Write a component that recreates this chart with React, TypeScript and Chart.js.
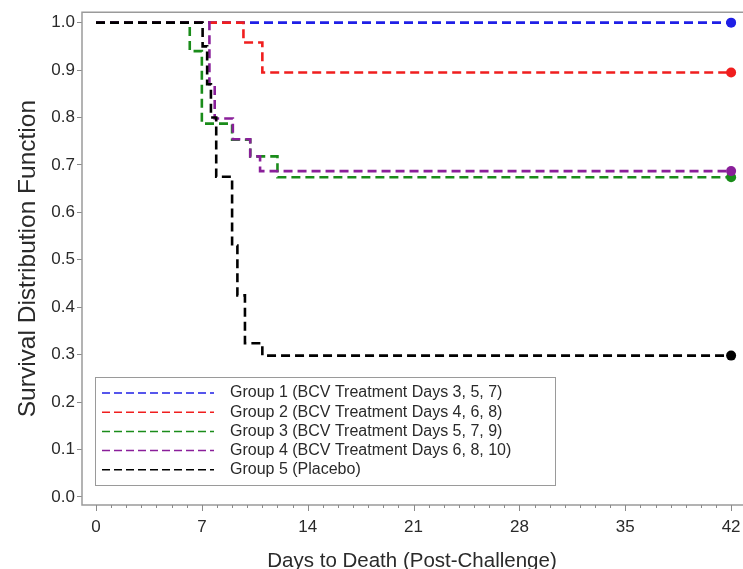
import React, { useEffect, useRef } from 'react';
import { Chart, registerables } from 'chart.js';

Chart.register(...registerables);

// ---- data ----
const xTickValues = [0, 7, 14, 21, 28, 35, 42];
const yTickValues = [0, 0.1, 0.2, 0.3, 0.4, 0.5, 0.6, 0.7, 0.8, 0.9, 1.0];

const groupNames = [
  'Group 1 (BCV Treatment Days 3, 5, 7)',
  'Group 2 (BCV Treatment Days 4, 6, 8)',
  'Group 3 (BCV Treatment Days 5, 7, 9)',
  'Group 4 (BCV Treatment Days 6, 8, 10)',
  'Group 5 (Placebo)',
];
const groupColors = ['#1f1fe6', '#f01e1e', '#1a8c1a', '#8a1f9a', '#000000'];

const g1Days = [0, 42];
const g1Surv = [1, 1];
const g2Days = [0, 9.75, 11.0, 42];
const g2Surv = [1, 0.958, 0.895, 0.895];
const g3Days = [0, 6.2, 7.0, 9.0, 10.2, 12.0, 42];
const g3Surv = [1, 0.94, 0.787, 0.753, 0.718, 0.674, 0.674];
const g4Days = [0, 7.5, 7.85, 9.05, 10.2, 10.85, 42];
const g4Surv = [1, 0.87, 0.798, 0.754, 0.718, 0.687, 0.687];
const g5Days = [0, 7.05, 7.35, 7.6, 7.95, 9.0, 9.35, 9.85, 11.0, 42];
const g5Surv = [1, 0.95, 0.87, 0.8, 0.675, 0.53, 0.425, 0.324, 0.298, 0.298];

const allDays = [g1Days, g2Days, g3Days, g4Days, g5Days];
const allSurv = [g1Surv, g2Surv, g3Surv, g4Surv, g5Surv];
const drawOrder = [4, 3, 2, 1, 0];

const FONT = '"Liberation Sans", Arial, sans-serif';
const PLOT_RIGHT = 742;

const framePlugin = {
  id: 'framePlugin',
  afterLayout(chart: any) {
    const xs = chart.scales.x;
    const area = chart.chartArea;
    xs.right = PLOT_RIGHT;
    xs.width = PLOT_RIGHT - xs.left;
    area.right = PLOT_RIGHT;
    area.width = PLOT_RIGHT - area.left;
    xs.configure();
  },
  afterDatasetsDraw(chart: any) {
    const { ctx, chartArea } = chart;
    const { left, top, right, bottom } = chartArea;
    ctx.save();
    ctx.strokeStyle = '#9a9a9a';
    ctx.lineWidth = 1.5;
    ctx.beginPath();
    ctx.moveTo(right + 10, top);
    ctx.lineTo(left, top);
    ctx.lineTo(left, bottom);
    ctx.lineTo(right + 10, bottom);
    ctx.stroke();
    // minor ticks every day, major ticks at the labelled values
    const xs = chart.scales.x;
    ctx.lineWidth = 1;
    ctx.strokeStyle = '#8a8a8a';
    for (let d = 0; d <= 42; d++) {
      const px = Math.round(xs.getPixelForValue(d)) + 0.5;
      const len = xTickValues.includes(d) ? 6 : 3;
      ctx.beginPath();
      ctx.moveTo(px, bottom);
      ctx.lineTo(px, bottom + len);
      ctx.stroke();
    }
    ctx.restore();
  },
  afterDraw(chart: any) {
    const { ctx } = chart;
    const bx = 95, by = 377, bw = 460, bh = 108;
    ctx.save();
    ctx.fillStyle = '#ffffff';
    ctx.fillRect(bx, by, bw, bh);
    ctx.strokeStyle = '#9a9a9a';
    ctx.lineWidth = 1;
    ctx.strokeRect(bx + 0.5, by + 0.5, bw, bh);
    ctx.font = `16px ${FONT}`;
    ctx.textBaseline = 'middle';
    for (let i = 0; i < groupNames.length; i++) {
      const y = by + 16 + i * 19.2;
      ctx.strokeStyle = groupColors[i];
      ctx.lineWidth = 1.5;
      ctx.setLineDash([8, 4]);
      ctx.beginPath();
      ctx.moveTo(102, y);
      ctx.lineTo(214, y);
      ctx.stroke();
      ctx.setLineDash([]);
      ctx.fillStyle = '#2a2a2a';
      ctx.fillText(groupNames[i], 230, y);
    }
    ctx.restore();
  },
};

export default function App() {
  const ref = useRef<HTMLCanvasElement | null>(null);
  useEffect(() => {
    const canvas = ref.current;
    if (!canvas) return;
    const datasets = allDays.map((days, gi) => ({
      label: groupNames[gi],
      data: days.map((d, i) => ({ x: d, y: allSurv[gi][i] })),
      borderColor: groupColors[gi],
      backgroundColor: groupColors[gi],
      borderWidth: 2.6,
      borderDash: [9, 5],
      stepped: 'before' as const,
      fill: false,
      order: drawOrder[gi],
      pointRadius: (c: any) => (c.dataIndex === days.length - 1 ? 5 : 0),
      pointBackgroundColor: groupColors[gi],
      pointBorderWidth: 0,
      pointHoverRadius: 0,
    }));
    const chart = new Chart(canvas, {
      type: 'line',
      data: { datasets },
      plugins: [framePlugin],
      options: {
        animation: false,
        responsive: false,
        maintainAspectRatio: false,
        events: [],
        layout: { padding: { top: 12, right: 1, left: 0, bottom: 0 } },
        plugins: { legend: { display: false }, tooltip: { enabled: false } },
        scales: {
          x: {
            type: 'linear',
            min: -0.926,
            max: 42.72,
            afterBuildTicks: (s: any) => {
              s.ticks = xTickValues.map((v) => ({ value: v }));
            },
            afterFit: (s: any) => {
              s.height = 64;
            },
            border: { display: false },
            grid: {
              drawOnChartArea: false,
              drawTicks: true,
              tickLength: 12,
              color: 'rgba(0,0,0,0)',
              tickColor: 'rgba(0,0,0,0)',
            },
            ticks: {
              color: '#2a2a2a',
              font: { family: FONT, size: 17 },
              padding: 0,
              maxRotation: 0,
              autoSkip: false,
              callback: (v: any) => String(v),
            },
            title: {
              display: true,
              text: 'Days to Death (Post-Challenge)',
              color: '#2a2a2a',
              font: { family: FONT, size: 20.5, lineHeight: 1 },
              padding: { top: 0, bottom: -3 },
            },
          },
          y: {
            type: 'linear',
            min: -0.017,
            max: 1.022,
            afterBuildTicks: (s: any) => {
              s.ticks = yTickValues.map((v) => ({ value: v }));
            },
            afterFit: (s: any) => {
              s.width = 82;
            },
            border: { display: false },
            grid: { drawOnChartArea: false, drawTicks: true, tickLength: 5, color: '#8a8a8a' },
            ticks: {
              color: '#2a2a2a',
              font: { family: FONT, size: 17 },
              padding: 2,
              autoSkip: false,
              callback: (v: any) => Number(v).toFixed(1),
            },
            title: {
              display: true,
              text: 'Survival Distribution Function',
              color: '#2a2a2a',
              font: { family: FONT, size: 24.5, lineHeight: 1 },
              padding: { top: 16, bottom: 0 },
            },
          },
        },
      },
    });
    return () => chart.destroy();
  }, []);
  return (
    <div style={{ position: 'fixed', left: 0, top: 0, width: 743, height: 569, background: '#fff' }}>
      <canvas ref={ref} width={743} height={569} style={{ width: 743, height: 569, display: 'block' }} />
    </div>
  );
}
